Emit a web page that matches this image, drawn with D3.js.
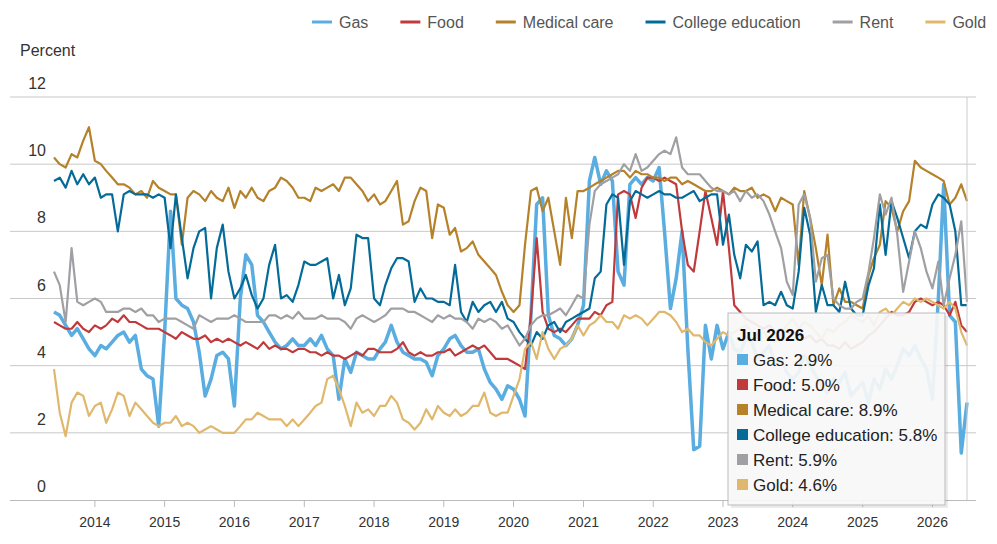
<!DOCTYPE html>
<html>
<head>
<meta charset="utf-8">
<script src="https://cdn.jsdelivr.net/npm/d3@7"></script>
<style>
body{margin:0;background:#fff;font-family:Arial,"Liberation Sans",sans-serif;}
</style>
</head>
<body>
<script>
/* monthly values, Jun 2013 .. Jul 2026 */
var startMonth = new Date(2013, 5, 1);
var seriesNames = ["Gas","Food","Medical care","College education","Rent","Gold"];
var colors = ["#5aade0","#c0393b","#b5822a","#046b99","#a0a0a4","#e0b86d"];
var yTicks = [0,2,4,6,8,10,12];
var yearTicks = [2014,2015,2016,2017,2018,2019,2020,2021,2022,2023,2024,2025,2026];

var gas = [5.6,5.5,5.2,4.9,5.1,4.8,4.5,
 4.3,4.6,4.5,4.7,4.9,5.0,4.7,4.9,3.9,3.7,3.6,2.2,
 5.0,8.6,6.0,5.8,5.7,5.3,4.4,3.1,3.6,4.3,4.4,4.2,
 2.8,6.0,7.3,7.0,5.5,5.3,5.0,4.7,4.5,4.6,4.8,4.6,
 4.6,4.8,4.6,4.9,4.5,4.3,3.0,4.2,3.8,4.4,4.3,4.2,
 4.2,4.5,4.7,5.2,4.7,4.4,4.3,4.2,4.2,4.1,3.7,4.3,
 4.5,4.8,4.9,4.6,4.4,4.4,4.5,3.9,3.5,3.3,3.0,3.4,
 3.3,3.0,2.5,5.5,8.8,9.0,5.5,4.9,4.8,4.6,4.8,5.2,
 5.8,9.5,10.2,9.4,9.8,9.5,6.8,6.4,9.4,9.6,9.4,9.6,
 9.5,9.9,8.0,5.7,6.6,8.0,4.5,1.5,1.6,5.2,4.2,5.2,
 4.5,5.0,4.5,4.4,4.8,4.7,4.2,4.4,4.6,4.0,4.2,3.8,
 3.6,3.8,4.3,4.0,3.7,3.4,3.2,3.6,3.5,3.8,3.1,3.3,
 3.5,2.9,3.6,3.3,3.9,3.6,4.0,4.5,4.3,4.6,4.2,3.9,
 3.0,6.0,9.4,5.5,5.3,1.4,2.9];
var food = [5.3,5.2,5.1,5.1,5.3,5.1,5.0,
 5.2,5.1,5.2,5.4,5.3,5.5,5.3,5.3,5.2,5.1,5.1,5.1,
 5.0,4.9,4.8,5.0,4.9,4.8,4.8,4.9,4.7,4.8,4.7,4.8,
 4.7,4.6,4.7,4.6,4.5,4.7,4.5,4.6,4.5,4.5,4.4,4.5,
 4.5,4.4,4.4,4.3,4.4,4.3,4.3,4.2,4.3,4.4,4.3,4.5,
 4.5,4.4,4.4,4.4,4.5,4.7,4.4,4.3,4.4,4.3,4.3,4.4,
 4.4,4.5,4.3,4.4,4.5,4.6,4.5,4.6,4.4,4.2,4.2,4.2,
 4.1,4.0,3.9,5.5,7.8,5.6,5.1,5.0,5.1,5.0,5.2,5.4,
 5.4,5.4,5.6,5.5,5.8,5.9,9.1,9.2,9.1,8.4,9.3,9.6,
 9.6,9.5,9.6,9.5,9.4,8.0,7.0,6.8,8.0,9.2,8.4,7.6,
 9.2,7.5,5.8,5.6,5.4,5.3,5.2,5.1,5.2,5.0,5.1,5.0,
 5.0,4.9,4.8,4.9,4.7,4.8,4.6,4.6,4.5,4.7,4.5,4.6,
 4.7,4.9,5.0,5.2,5.4,5.6,5.5,5.5,5.6,5.9,6.0,5.9,
 5.8,5.9,5.8,5.5,5.9,5.2,5.0];
var medical = [10.2,10.0,9.9,10.3,10.2,10.7,11.1,
 10.1,10.0,9.8,9.6,9.4,9.4,9.3,9.1,9.2,9.0,9.5,9.3,
 9.2,9.1,9.1,7.6,9.0,9.2,9.1,8.9,9.2,9.0,8.9,9.3,
 8.7,9.2,9.0,9.3,9.0,8.9,9.2,9.3,9.6,9.5,9.3,9.0,
 9.0,8.9,9.3,9.2,9.3,9.4,9.2,9.6,9.6,9.4,9.2,8.9,
 9.1,8.8,8.9,9.2,9.5,8.2,8.3,8.9,9.3,9.2,7.8,8.8,
 8.7,7.9,8.1,7.4,7.5,7.7,7.3,7.1,6.9,6.7,6.2,5.8,
 5.6,5.8,7.6,9.2,9.3,8.6,9.0,8.0,7.0,9.0,7.8,9.2,
 9.2,9.3,9.4,9.5,9.6,9.7,9.8,9.8,9.6,9.8,9.7,9.7,
 9.6,9.6,9.5,9.6,9.6,9.4,9.5,9.4,9.3,9.2,9.2,9.3,
 9.2,9.1,9.3,9.2,9.2,9.3,9.0,9.1,9.0,8.6,9.0,8.9,
 8.8,7.0,9.2,8.4,7.5,6.4,7.9,5.8,6.3,5.9,5.9,5.8,
 5.7,6.7,7.2,7.6,8.9,8.7,8.0,8.6,8.9,10.1,9.9,9.8,
 9.7,9.6,9.5,8.8,9.0,9.4,8.9];
var college = [9.5,9.6,9.3,9.8,9.4,9.7,9.4,
 9.6,9.0,9.1,9.1,8.0,9.1,9.2,9.1,9.1,9.1,9.0,9.1,
 9.0,7.5,9.1,7.8,6.6,7.5,8.0,8.1,6.0,7.5,8.2,6.8,
 6.0,6.3,6.7,6.1,5.7,6.0,7.0,7.6,6.0,6.1,5.9,6.4,
 7.1,7.0,7.0,7.1,7.2,6.0,6.7,5.8,6.3,7.9,7.8,7.8,
 6.0,5.8,6.4,6.9,7.2,7.2,7.1,5.9,6.3,6.0,6.0,5.9,
 5.9,5.8,7.0,5.6,5.3,5.9,5.6,5.8,5.9,5.6,5.9,5.4,
 5.3,5.0,4.8,4.6,5.0,4.8,5.2,5.3,5.0,5.3,5.4,5.5,
 5.6,5.7,6.6,6.8,8.8,9.1,9.0,7.0,8.9,9.2,9.1,9.0,
 9.1,9.2,9.1,9.1,9.0,9.0,9.1,9.2,8.9,9.0,9.1,9.1,
 7.6,8.5,7.3,6.6,7.6,7.4,7.7,5.8,5.9,5.8,6.2,5.8,
 5.7,6.8,8.7,7.9,5.6,6.4,5.8,5.8,5.6,6.5,5.7,5.5,
 5.5,6.4,6.9,8.8,7.3,8.9,8.4,7.8,7.2,8.0,8.2,8.1,
 8.8,9.1,9.0,8.8,8.0,5.8,5.8];
var rent = [6.8,6.4,5.3,7.5,5.9,5.8,5.9,
 6.0,5.9,5.6,5.6,5.6,5.7,5.7,5.6,5.7,5.5,5.5,5.3,
 5.4,5.4,5.4,5.3,5.2,5.1,5.5,5.4,5.3,5.4,5.4,5.4,
 5.5,5.4,5.3,5.3,5.3,5.3,5.5,5.5,5.4,5.5,5.4,5.6,
 5.4,5.4,5.4,5.5,5.4,5.4,5.4,5.3,5.1,5.4,5.5,5.4,
 5.3,5.4,5.5,5.7,5.7,5.7,5.6,5.6,5.5,5.4,5.3,5.5,
 5.4,5.5,5.4,5.4,5.3,5.1,5.4,5.3,5.4,5.3,5.1,5.2,
 4.9,4.6,4.8,5.2,5.4,5.5,5.5,5.6,5.7,5.5,5.8,6.1,
 6.0,8.2,9.2,9.4,9.5,9.6,9.7,10.0,9.8,10.3,9.8,9.9,
 10.1,10.3,10.4,10.3,10.8,9.9,9.7,9.7,9.7,9.5,9.3,9.2,
 9.2,9.1,9.2,8.9,9.2,9.0,9.1,8.9,8.5,8.0,7.5,6.5,
 6.1,8.8,9.1,8.4,6.5,7.2,7.3,6.0,5.8,5.7,5.7,5.9,
 6.0,6.8,7.8,9.1,8.5,9.0,7.9,6.2,7.1,8.0,7.5,6.8,
 6.3,7.1,5.8,6.6,7.3,8.3,5.9];
var gold = [3.9,2.6,1.9,2.9,3.2,3.1,2.5,
 2.8,2.9,2.3,2.7,3.2,3.1,2.5,2.9,2.7,2.5,2.3,2.2,
 2.3,2.3,2.5,2.2,2.3,2.2,2.0,2.1,2.2,2.1,2.0,2.0,
 2.0,2.2,2.4,2.4,2.6,2.5,2.4,2.4,2.4,2.2,2.4,2.2,
 2.4,2.6,2.8,2.9,3.6,3.7,3.3,2.8,2.2,2.9,2.6,2.7,
 2.5,2.8,2.8,3.1,2.9,2.4,2.3,2.1,2.3,2.7,2.4,2.8,
 2.6,2.5,2.7,2.5,2.6,2.8,2.8,3.2,2.6,2.5,2.6,2.6,
 3.1,3.6,4.5,4.7,4.2,5.0,4.5,4.2,4.5,4.6,4.8,5.2,
 4.9,5.2,5.3,5.5,5.3,5.3,5.1,5.5,5.4,5.5,5.4,5.2,
 5.4,5.6,5.6,5.5,5.3,5.0,5.1,4.9,4.9,4.7,4.6,4.8,
 5.0,4.9,5.0,5.1,5.2,5.0,4.9,5.0,4.8,4.7,4.9,5.2,
 5.4,5.1,5.3,5.2,5.0,4.8,5.1,5.0,5.2,5.3,5.5,5.4,
 5.3,5.5,5.2,5.6,5.7,5.5,5.7,5.9,5.8,6.0,5.9,6.0,
 5.9,5.8,5.7,5.9,5.7,5.0,4.6];

var seriesValues = [gas, food, medical, college, rent, gold];
var width = 997, height = 544;
var months = gas.map(function(d,i){return d3.timeMonth.offset(startMonth, i);});

var x = d3.scaleTime().domain([months[0], months[months.length-1]]).range([54, 967]);
var y = d3.scaleLinear().domain([0,12]).range([500, 97]);

var svg = d3.select("body").append("svg").attr("width",width).attr("height",height)
  .style("font-family","Arial, 'Liberation Sans', sans-serif");

// grid
svg.selectAll(".grid").data(yTicks.slice(1)).enter().append("line")
  .attr("x1",10).attr("x2",976).attr("y1",function(d){return y(d);}).attr("y2",function(d){return y(d);})
  .attr("stroke","#c8c8c8").attr("stroke-width",1);
svg.selectAll(".ylab").data(yTicks).enter().append("text")
  .attr("x",46).attr("y",function(d){return y(d)-8;}).attr("text-anchor","end")
  .attr("font-size",16).attr("fill","#333").text(function(d){return d;});
svg.append("text").attr("x",20).attr("y",56).attr("font-size",16).attr("fill","#333").text("Percent");

// x axis
svg.append("line").attr("x1",10).attr("x2",976).attr("y1",500.5).attr("y2",500.5).attr("stroke","#bbb");
var yearDates = yearTicks.map(function(yr){return new Date(yr,0,1);});
svg.selectAll(".xt").data(yearDates).enter().append("line")
  .attr("x1",function(d){return x(d);}).attr("x2",function(d){return x(d);})
  .attr("y1",500).attr("y2",507).attr("stroke","#bbb");
svg.selectAll(".xl").data(yearDates).enter().append("text")
  .attr("x",function(d){return x(d);}).attr("y",527).attr("text-anchor","middle")
  .attr("font-size",14).attr("fill","#333").text(function(d){return d.getFullYear();});

// lines
var line = d3.line().x(function(d,i){return x(months[i]);}).y(function(d){return y(d);});
seriesValues.forEach(function(vals,k){
  svg.append("path").datum(vals).attr("d",line).attr("fill","none")
    .attr("stroke",colors[k]).attr("stroke-width",k===0?3.5:2.2).attr("stroke-linejoin","round");
});

// hover line
svg.append("line").attr("x1",x(months[months.length-1])).attr("x2",x(months[months.length-1]))
  .attr("y1",97).attr("y2",500).attr("stroke","#ccc");

// legend
var lg = svg.append("g");
var lx = 312;
seriesNames.forEach(function(n,k){
  lg.append("line").attr("x1",lx).attr("x2",lx+20).attr("y1",22).attr("y2",22)
    .attr("stroke",colors[k]).attr("stroke-width",3);
  var t = lg.append("text").attr("x",lx+27).attr("y",28).attr("font-size",16).attr("fill","#555").text(n);
  lx += 27 + t.node().getComputedTextLength() + 32;
});

// tooltip
var last = months.length-1;
var tip = svg.append("g").attr("transform","translate(728,313)");
tip.append("rect").attr("x",3).attr("y",3).attr("width",217).attr("height",192).attr("fill","rgba(0,0,0,0.08)");
tip.append("rect").attr("width",217).attr("height",192).attr("fill","rgba(249,249,249,0.92)")
  .attr("stroke","#bbb");
tip.append("text").attr("x",9).attr("y",28).attr("font-size",17).attr("font-weight","bold").attr("fill","#111")
  .text(d3.timeFormat("%b %Y")(months[last]));
seriesNames.forEach(function(n,k){
  var yy = 53 + k*25;
  tip.append("rect").attr("x",9).attr("y",yy-12).attr("width",11).attr("height",11).attr("fill",colors[k]);
  tip.append("text").attr("x",25).attr("y",yy).attr("font-size",17).attr("fill","#222")
    .text(n + ": " + seriesValues[k][last].toFixed(1) + "%");
});
</script>
</body>
</html>
